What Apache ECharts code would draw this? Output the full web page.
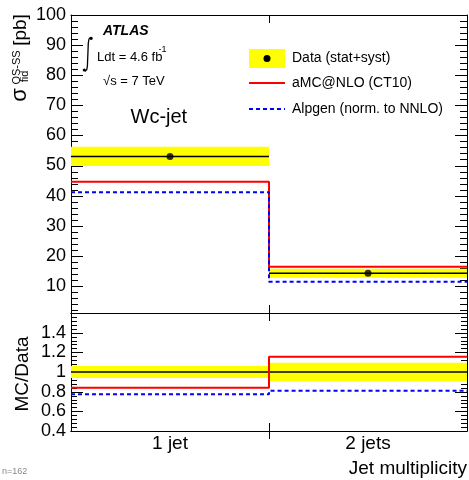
<!DOCTYPE html>
<html><head><meta charset="utf-8">
<script src="https://cdn.jsdelivr.net/npm/echarts@6/dist/echarts.min.js"></script>
<style>html,body{margin:0;padding:0;background:#fff}#c{width:469px;height:480px}</style>
</head><body><div id="c"></div>
<script>
// ---- data ----
const categories = ['1 jet', '2 jets'];
const binEdges = [0, 1, 2];
const dataXsec = [53.0, 14.2];
const dataXsecErr = [3.2, 1.5];
const amcnloXsec = [44.6, 16.4];
const alpgenXsec = [41.1, 11.4];
const ratioDataErr = [0.06, 0.095];
const ratioAmcnlo = [0.84, 1.155];
const ratioAlpgen = [0.775, 0.81];
const topTickLabels = [10, 20, 30, 40, 50, 60, 70, 80, 90, 100];
const ratioTickLabels = [0.4, 0.6, 0.8, 1, 1.2, 1.4];

// ---- layout / helpers ----
const FONT = '"Liberation Sans", Arial, Helvetica, sans-serif';
const GL = 71, GW = 396, T0 = 15, H0 = 298, T1 = 313, H1 = 118;
const XMIN = binEdges[0], XMAX = binEdges[binEdges.length - 1];
const binCenters = categories.map((c, i) => (binEdges[i] + binEdges[i + 1]) / 2);
const innerEdges = binEdges.slice(1, -1);
function stepData(vals) {
  const d = vals.map((v, i) => [binEdges[i], v]);
  d.push([binEdges[vals.length], vals[vals.length - 1]]);
  return d;
}
const topTicks = [];
for (let v = 2; v <= 100; v += 2) topTicks.push([v, topTickLabels.includes(v) ? 1 : 0]);
const ratioTicks = [];
for (let k = 10; k <= 40; k++) ratioTicks.push([k * 0.04, k % 5 === 0 ? 1 : 0]);

function bandRender(params, api) {
  const lo = api.value(0), hi = api.value(1), v = api.value(2), e = api.value(3);
  const p1 = api.coord([lo, v + e]), p2 = api.coord([hi, v - e]);
  const c1 = api.coord([lo, v]), c2 = api.coord([hi, v]);
  return { type: 'group', children: [
    { type: 'rect', shape: { x: p1[0], y: p1[1], width: p2[0] - p1[0], height: p2[1] - p1[1] }, style: { fill: '#ffff00' } },
    { type: 'line', shape: { x1: c1[0], y1: c1[1], x2: c2[0], y2: c2[1] }, style: { stroke: '#000', lineWidth: 1.5 } }
  ]};
}
function xAx(grid, position, offset, withLabels) {
  return {
    type: 'value', gridIndex: grid, position: position, offset: offset, min: XMIN, max: XMAX,
    splitLine: { show: false },
    axisLine: { show: true, onZero: false, lineStyle: { color: '#000', width: 1 } },
    axisTick: { show: true, inside: false, length: 8, customValues: innerEdges, lineStyle: { color: '#000', width: 1 } },
    axisLabel: withLabels ? { show: true, customValues: binCenters, formatter: v => categories[Math.floor(v)],
      fontSize: 19, fontFamily: FONT, color: '#000', margin: 3 } : { show: false }
  };
}

const chart = echarts.init(document.getElementById('c'), null, { renderer: 'canvas' });
chart.setOption({
  animation: false,
  backgroundColor: '#fff',
  grid: [
    { left: GL, top: T0, width: GW, height: H0, outerBoundsMode: 'none' },
    { left: GL, top: T1, width: GW, height: H1, outerBoundsMode: 'none' }
  ],
  xAxis: [
    xAx(0, 'top', -H0, false),
    xAx(0, 'bottom', -H0, false),
    xAx(1, 'bottom', 0, true),
    xAx(1, 'top', -H1, false),
    xAx(1, 'bottom', -H1, false)
  ],
  yAxis: [
    { type: 'value', gridIndex: 0, position: 'left', min: 1, max: 100, splitLine: { show: false },
      axisLine: { show: true, onZero: false, lineStyle: { color: '#000' } },
      axisTick: { show: false },
      axisLabel: { show: true, customValues: topTickLabels, fontSize: 18, fontFamily: FONT, color: '#000', margin: 5 } },
    { type: 'value', gridIndex: 0, position: 'right', min: 1, max: 100, splitLine: { show: false },
      axisLine: { show: true, onZero: false, lineStyle: { color: '#000' } },
      axisTick: { show: false }, axisLabel: { show: false } },
    { type: 'value', gridIndex: 1, position: 'left', min: 0.4, max: 1.6, interval: 0.2, splitLine: { show: false },
      axisLine: { show: true, onZero: false, lineStyle: { color: '#000' } },
      axisTick: { show: false },
      axisLabel: { show: true, showMaxLabel: false, fontSize: 18, fontFamily: FONT, color: '#000', margin: 5,
        formatter: v => { const m = ratioTickLabels.find(t => Math.abs(t - v) < 1e-6); return m === undefined ? '' : String(m); } } },
    { type: 'value', gridIndex: 1, position: 'right', min: 0.4, max: 1.6, interval: 0.2, splitLine: { show: false },
      axisLine: { show: true, onZero: false, lineStyle: { color: '#000' } },
      axisTick: { show: false }, axisLabel: { show: false } }
  ],
  series: [
    { type: 'custom', name: 'Data band', xAxisIndex: 0, yAxisIndex: 0, z: 1, renderItem: bandRender, encode: { x: [0, 1], y: 2 },
      data: categories.map((c, i) => [binEdges[i], binEdges[i + 1], dataXsec[i], dataXsecErr[i]]) },
    { type: 'line', name: 'aMC@NLO (CT10)', xAxisIndex: 0, yAxisIndex: 0, z: 3, step: 'end', showSymbol: false,
      lineStyle: { color: '#ff0000', width: 2 }, data: stepData(amcnloXsec) },
    { type: 'line', name: 'Alpgen (norm. to NNLO)', xAxisIndex: 0, yAxisIndex: 0, z: 4, step: 'end', showSymbol: false,
      lineStyle: { color: '#0000ff', width: 2, type: [4, 3] }, data: stepData(alpgenXsec) },
    { type: 'scatter', name: 'Data', xAxisIndex: 0, yAxisIndex: 0, z: 5, symbol: 'circle', symbolSize: 7,
      itemStyle: { color: '#000' }, data: categories.map((c, i) => [binCenters[i], dataXsec[i]]) },
    { type: 'custom', name: 'Ratio band', xAxisIndex: 2, yAxisIndex: 2, z: 1, renderItem: bandRender, encode: { x: [0, 1], y: 2 },
      data: categories.map((c, i) => [binEdges[i], binEdges[i + 1], 1, ratioDataErr[i]]) },
    { type: 'line', name: 'aMC ratio', xAxisIndex: 2, yAxisIndex: 2, z: 3, step: 'end', showSymbol: false,
      lineStyle: { color: '#ff0000', width: 2 }, data: stepData(ratioAmcnlo) },
    { type: 'line', name: 'Alpgen ratio', xAxisIndex: 2, yAxisIndex: 2, z: 4, step: 'end', showSymbol: false,
      lineStyle: { color: '#0000ff', width: 2, type: [4, 3] }, data: stepData(ratioAlpgen) }
  ]
});

const annotations = [
  { type: 'text', x: 20, y: 95, rotation: Math.PI / 2, style: { text: 'σ', font: '22px ' + FONT, fill: '#000', align: 'center', verticalAlign: 'middle' } },
  { type: 'text', x: 16.5, y: 67.5, rotation: Math.PI / 2, style: { text: 'OS-SS', font: '11px ' + FONT, fill: '#000', align: 'center', verticalAlign: 'middle' } },
  { type: 'text', x: 25, y: 76.5, rotation: Math.PI / 2, style: { text: 'fid', font: '11px ' + FONT, fill: '#000', align: 'center', verticalAlign: 'middle' } },
  { type: 'text', x: 21, y: 30, rotation: Math.PI / 2, style: { text: '[pb]', font: '19px ' + FONT, fill: '#000', align: 'center', verticalAlign: 'middle' } },
  { type: 'text', x: 22.5, y: 374, rotation: Math.PI / 2, style: { text: 'MC/Data', font: '19px ' + FONT, fill: '#000', align: 'center', verticalAlign: 'middle' } },
  { type: 'text', x: 467, y: 469, style: { text: 'Jet multiplicity', font: '19px ' + FONT, fill: '#000', align: 'right', verticalAlign: 'middle' } },
  { type: 'text', x: 103, y: 31, style: { text: 'ATLAS', font: 'italic bold 14px ' + FONT, fill: '#000', align: 'left', verticalAlign: 'middle' } },
  { type: 'polyline', shape: { points: [[84, 70], [85.5, 71], [86.8, 69.5], [87.4, 66], [88.3, 43], [89, 39], [90.2, 37.8], [91.5, 38.3]] }, style: { stroke: '#000', lineWidth: 1.3, fill: null } },
  { type: 'circle', shape: { cx: 84.3, cy: 70, r: 1.6 }, style: { fill: '#000' } },
  { type: 'circle', shape: { cx: 91.2, cy: 38.3, r: 1.6 }, style: { fill: '#000' } },
  { type: 'text', x: 97, y: 57, style: { text: 'Ldt = 4.6 fb', font: '13px ' + FONT, fill: '#000', align: 'left', verticalAlign: 'middle' } },
  { type: 'text', x: 158.5, y: 50, style: { text: '-1', font: '9px ' + FONT, fill: '#000', align: 'left', verticalAlign: 'middle' } },
  { type: 'text', x: 103, y: 81, style: { text: '√s = 7 TeV', font: '13px ' + FONT, fill: '#000', align: 'left', verticalAlign: 'middle' } },
  { type: 'text', x: 130.5, y: 117, style: { text: 'Wc-jet', font: '20px ' + FONT, fill: '#000', align: 'left', verticalAlign: 'middle' } },
  { type: 'rect', shape: { x: 249, y: 49, width: 36, height: 19 }, style: { fill: '#ffff00' } },
  { type: 'circle', shape: { cx: 267, cy: 58.5, r: 3.5 }, style: { fill: '#000' } },
  { type: 'text', x: 292, y: 58.5, style: { text: 'Data (stat+syst)', font: '14px ' + FONT, fill: '#000', align: 'left', verticalAlign: 'middle' } },
  { type: 'line', shape: { x1: 249, y1: 83, x2: 285, y2: 83 }, style: { stroke: '#ff0000', lineWidth: 2 } },
  { type: 'text', x: 292, y: 83, style: { text: 'aMC@NLO (CT10)', font: '14px ' + FONT, fill: '#000', align: 'left', verticalAlign: 'middle' } },
  { type: 'line', shape: { x1: 249, y1: 109, x2: 285, y2: 109 }, style: { stroke: '#0000ff', lineWidth: 2, lineDash: [4, 3] } },
  { type: 'text', x: 292, y: 109, style: { text: 'Alpgen (norm. to NNLO)', font: '14px ' + FONT, fill: '#000', align: 'left', verticalAlign: 'middle' } }
];

// ---- inside y ticks, positioned via the y axes' own scales ----
const tickEls = [];
let dbg = '';
function addTicks(finder, ticks, majorLen, minorLen) {
  ticks.forEach(function (t) {
    let y = chart.convertToPixel(finder, t[0]);
    if (typeof y !== 'number' || !isFinite(y)) { dbg += 'bad;'; return; }
    y = Math.round(y) + 0.5;
    const L = t[1] ? majorLen : minorLen;
    tickEls.push({ type: 'rect', silent: true, shape: { x: GL, y: y - 0.5, width: L, height: 1 }, style: { fill: '#000' } });
    tickEls.push({ type: 'rect', silent: true, shape: { x: GL + GW - L, y: y - 0.5, width: L, height: 1 }, style: { fill: '#000' } });
  });
}
try {
  addTicks({ yAxisIndex: 0 }, topTicks, 12, 7);
  addTicks({ yAxisIndex: 2 }, ratioTicks, 12, 6);
} catch (e) { dbg += 'ERR ' + e.message; }
dbg = 'n=' + tickEls.length + ' ' + dbg;

chart.setOption({ graphic: annotations.concat(tickEls).concat([
  { type: 'text', x: 2, y: 472, style: { text: dbg, font: '9px ' + FONT, fill: '#888', align: 'left', verticalAlign: 'middle' } }
]) });
</script>
</body></html>
